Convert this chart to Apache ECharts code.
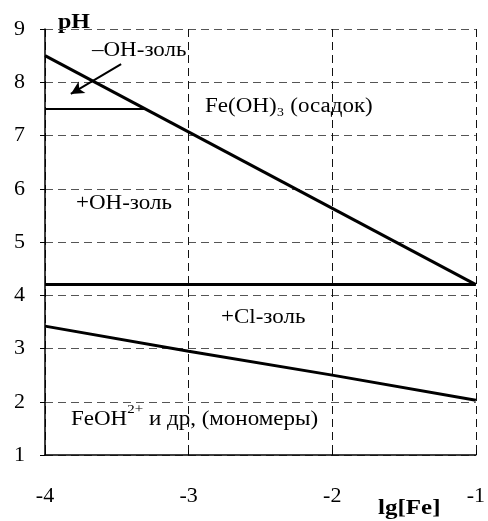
<!DOCTYPE html>
<html>
<head>
<meta charset="utf-8">
<script src="https://cdn.jsdelivr.net/npm/echarts@6/dist/echarts.min.js"></script>
<style>
  html, body { margin: 0; padding: 0; background: #fff; }
  #chart { width: 488px; height: 521px; }
</style>
</head>
<body>
<div id="chart"></div>
<script>
// lg[Fe] -> pH
var upperLine = [[-4, 8.5], [-1, 4.2]];
var midLine = [[-4, 4.2], [-1, 4.2]];
var shortLine = [[-4, 7.5], [-3.3, 7.5]];
var lowerLine = [[-4, 3.42], [-3, 2.95], [-2, 2.5], [-1, 2.03]];
var arrowFrom = [-3.47, 8.34];
var arrowTo = [-3.82, 7.78];

var serif = '"Liberation Serif", "DejaVu Serif", serif';

var chart = echarts.init(document.getElementById('chart'));

function lineSeries(data, width) {
  return {
    type: 'line',
    data: data,
    symbol: 'none',
    silent: true,
    lineStyle: { color: '#000', width: width },
    z: 5
  };
}

// serif text, the original is a bit stretched horizontally
function label(txt, x, y, size, bold, sx) {
  return {
    type: 'text',
    x: x,
    y: y,
    scaleX: sx || 1.15,
    style: {
      text: txt,
      font: (bold ? 'bold ' : '') + size + 'px ' + serif,
      fill: '#000',
      verticalAlign: 'middle',
      rich: {
        s: { fontSize: 13, fontFamily: serif, verticalAlign: 'top', padding: [0, 0, 20, 0] }
      }
    }
  };
}

var option = {
  animation: false,
  grid: { left: 45, right: 11, top: 29, bottom: 66 },
  xAxis: {
    type: 'value',
    min: -4,
    max: -1,
    interval: 1,
    axisLine: { show: true, onZero: false, lineStyle: { color: '#000', width: 1.5 } },
    axisTick: { show: true, inside: true, length: 5, lineStyle: { color: '#000' } },
    axisLabel: { margin: 30, color: '#000', fontSize: 22, fontFamily: serif },
    splitLine: { show: true, lineStyle: { color: '#111', type: [8, 5], width: 1 } }
  },
  yAxis: {
    type: 'value',
    min: 1,
    max: 9,
    interval: 1,
    axisLine: { show: true, onZero: false, lineStyle: { color: '#000', width: 1.5 } },
    axisTick: { show: true, length: 5, lineStyle: { color: '#000' } },
    axisLabel: { margin: 20, color: '#000', fontSize: 22, fontFamily: serif },
    splitLine: { show: true, lineStyle: { color: '#555', type: [8, 5], width: 1 } }
  },
  series: [
    lineSeries(upperLine, 3),
    lineSeries(midLine, 3),
    lineSeries(shortLine, 2),
    lineSeries(lowerLine, 3),
    {
      type: 'line',
      data: [],
      markLine: {
        silent: true,
        symbol: ['none', 'arrow'],
        symbolSize: [10, 13],
        label: { show: false },
        lineStyle: { color: '#000', width: 2, type: 'solid' },
        data: [[{ coord: arrowFrom }, { coord: arrowTo }]]
      }
    }
  ],
  graphic: [
    label('pH', 58, 23, 20, true, 1.2),
    label('lg[Fe]', 378, 509, 20, true, 1.25),
    label('\u2013OH-золь', 92, 51, 20),
    label('Fe(OH)\u2083 (осадок)', 205, 107, 20),
    label('+OH-золь', 76, 204, 20),
    label('+Cl-золь', 221, 318, 20),
    label('FeOH{s|2+} и др, (мономеры)', 71, 420, 20)
  ]
};

chart.setOption(option);
</script>
</body>
</html>
